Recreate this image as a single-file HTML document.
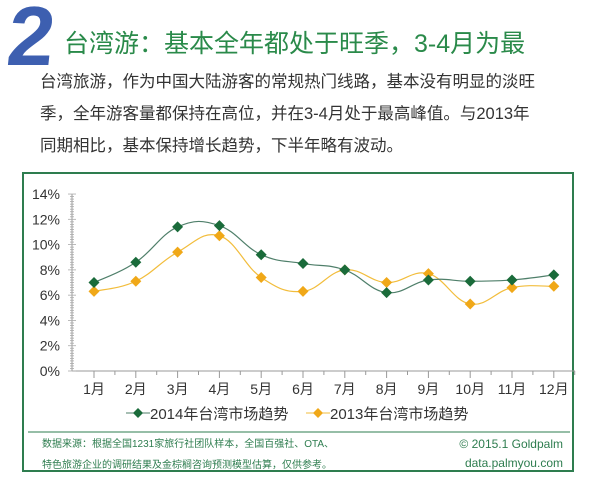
<!DOCTYPE html>
<html><head><meta charset="utf-8"><style>
body{margin:0;width:600px;height:484px;background:#fff;overflow:hidden;position:relative;font-family:"Liberation Sans","Noto Sans CJK SC",sans-serif;}
.two{position:absolute;left:8px;top:-12px;font-size:84px;font-weight:bold;color:#3d5fb0;font-family:"Liberation Sans",sans-serif;transform:skewX(-6deg);}
.title{position:absolute;left:64px;top:24px;font-size:25px;color:#2a8a4a;white-space:nowrap;}
.p{position:absolute;left:40px;top:66px;font-size:16.5px;line-height:32px;color:#333;width:560px;white-space:nowrap;}
.frame{position:absolute;left:22px;top:172px;width:552px;height:300px;border:2px solid #2e7d4f;box-sizing:border-box;}
</style></head><body>
<div class="two">2</div>
<div class="title">台湾游：基本全年都处于旺季，3-4月为最</div>
<div class="p">台湾旅游，作为中国大陆游客的常规热门线路，基本没有明显的淡旺<br>季，全年游客量都保持在高位，并在3-4月处于最高峰值。与2013年<br>同期相比，基本保持增长趋势，下半年略有波动。</div>
<div class="frame"></div>
<svg id="s" width="600" height="484" style="position:absolute;left:0;top:0" font-family="Liberation Sans, Noto Sans CJK SC, sans-serif"></svg>
<script>
const s=document.getElementById('s');let h='';
const Y=v=>371-v*12.64, X=i=>94+i*41.8;
h+='<line x1="72" y1="194" x2="72" y2="371" stroke="#999"/><line x1="72" y1="371" x2="575" y2="371" stroke="#999"/>';
for(let k=0;k<=70;k++){const y=371-k*2.528;h+=`<line x1="${k%10==0?68:70}" y1="${y}" x2="${k%10==0?76:74}" y2="${y}" stroke="#aaa" stroke-width="0.8"/>`;}
for(let k=0;k<=7;k++){h+=`<text x="60" y="${Y(k*2)+5}" font-size="14" text-anchor="end" fill="#333">${k*2}%</text>`;}
for(let i=0;i<12;i++){h+=`<line x1="${X(i)}" y1="371" x2="${X(i)}" y2="378" stroke="#999"/><line x1="${X(i)+20.9}" y1="371" x2="${X(i)+20.9}" y2="375" stroke="#999"/><text x="${X(i)}" y="394" font-size="14" text-anchor="middle" fill="#333">${i+1}月</text>`;}
function path(d){const p=d.map((v,i)=>[X(i),Y(v)]);let str=`M${p[0]}`;for(let i=0;i<p.length-1;i++){const p0=p[i-1]||p[i],p1=p[i],p2=p[i+1],p3=p[i+2]||p2;const t=0.2;str+=`C${p1[0]+(p2[0]-p0[0])*t},${p1[1]+(p2[1]-p0[1])*t} ${p2[0]-(p3[0]-p1[0])*t},${p2[1]-(p3[1]-p1[1])*t} ${p2[0]},${p2[1]}`;}return str;}
function ser(d,lc,mc){h+=`<path d="${path(d)}" fill="none" stroke="${lc}" stroke-width="1.2"/>`;d.forEach((v,i)=>{const x=X(i),y=Y(v);h+=`<path d="M${x},${y-5.5}L${x+5.5},${y}L${x},${y+5.5}L${x-5.5},${y}Z" fill="${mc}"/>`;});}
ser([6.3,7.1,9.4,10.7,7.4,6.3,8.0,7.0,7.7,5.3,6.6,6.7],'#f2bd3c','#f0a818');
ser([7.0,8.6,11.4,11.5,9.2,8.5,8.0,6.2,7.2,7.1,7.2,7.6],'#4f7f6a','#1a6b3a');
h+='<line x1="126" y1="413" x2="150" y2="413" stroke="#4f7f6a"/><path d="M138,408L143,413L138,418L133,413Z" fill="#1a6b3a"/><text x="150" y="419" font-size="15" fill="#333">2014年台湾市场趋势</text>';
h+='<line x1="306" y1="413" x2="330" y2="413" stroke="#f2bd3c"/><path d="M318,408L323,413L318,418L313,413Z" fill="#f0a818"/><text x="330" y="419" font-size="15" fill="#333">2013年台湾市场趋势</text>';
h+='<line x1="28" y1="432" x2="570" y2="432" stroke="#2e7d4f" stroke-width="1"/>';
h+='<text x="42" y="447" font-size="10" fill="#2e7d4f">数据来源：根据全国1231家旅行社团队样本，全国百强社、OTA、</text><text x="42" y="468" font-size="10" fill="#2e7d4f">特色旅游企业的调研结果及金棕榈咨询预测模型估算，仅供参考。</text>';
h+='<text x="563" y="448" font-size="12" text-anchor="end" fill="#2e7d4f">© 2015.1 Goldpalm</text><text x="563" y="467" font-size="12" text-anchor="end" fill="#2e7d4f">data.palmyou.com</text>';
s.innerHTML=h;
</script>
</body></html>
